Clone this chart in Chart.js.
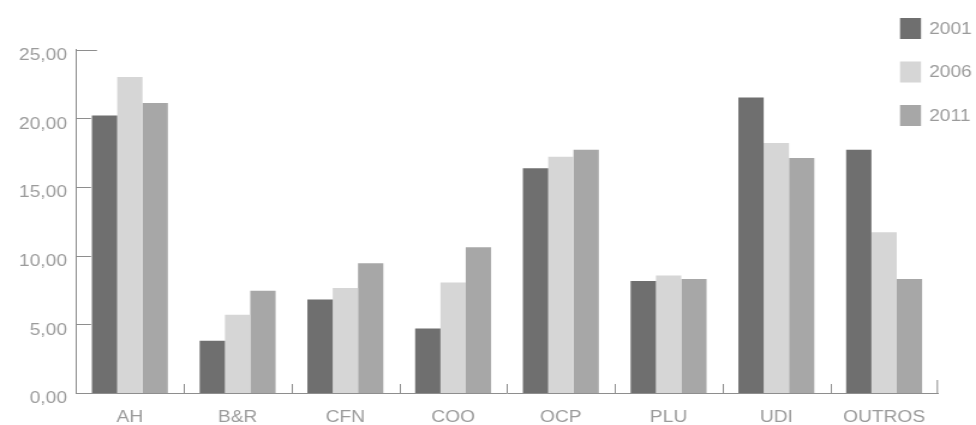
<!DOCTYPE html>
<html><head><meta charset="utf-8">
<script src="https://cdn.jsdelivr.net/npm/chart.js@4.4.1/dist/chart.umd.min.js"></script>
<style>
html,body{margin:0;padding:0;background:#fff;overflow:hidden;}
#wrap{position:absolute;left:0;top:0;width:813px;height:425px;transform:scaleX(1.2005);transform-origin:0 0;}
canvas{display:block;}
</style></head><body>
<div id="wrap"><canvas id="c" width="813" height="425"></canvas></div>
<script>
const categories = ['AH', 'B&R', 'CFN', 'COO', 'OCP', 'PLU', 'UDI', 'OUTROS'];
const seriesNames = ['2001', '2006', '2011'];
const values2001 = [20.2, 3.8, 6.8, 4.7, 16.35, 8.15, 21.5, 17.7];
const values2006 = [23.0, 5.7, 7.65, 8.05, 17.2, 8.55, 18.2, 11.7];
const values2011 = [21.1, 7.45, 9.45, 10.6, 17.7, 8.3, 17.1, 8.3];
const yTickValues = [0, 5, 10, 15, 20, 25];

const FONT = '"Liberation Sans", Arial, Helvetica, sans-serif';
const TEXT = '#9b9b9b';
const AXIS = '#8e8e8e';
const colors = ['#6f6f6f', '#d6d6d6', '#a7a7a7'];

const innerTicks = {
  id: 'innerTicks',
  afterDatasetsDraw(chart) {
    const ctx = chart.ctx, x = chart.scales.x, y = chart.scales.y, a = chart.chartArea;
    ctx.save();
    ctx.strokeStyle = AXIS; ctx.lineWidth = 1;
    ctx.beginPath();
    y.ticks.forEach(t => {
      if (t.value === 0) return;
      const py = Math.round(y.getPixelForValue(t.value)) + 0.5;
      const len = t.value === y.max ? 17.5 : 12.5;
      ctx.moveTo(a.left, py); ctx.lineTo(a.left + len, py);
    });
    for (let i = 1; i < categories.length; i++) {
      const px = Math.round((x.getPixelForTick(i - 1) + x.getPixelForTick(i)) / 2) + 0.5;
      ctx.moveTo(px, a.bottom); ctx.lineTo(px, a.bottom - 9);
    }
    ctx.moveTo(a.right - 0.5, a.bottom); ctx.lineTo(a.right - 0.5, a.bottom - 13);
    ctx.stroke();
    ctx.restore();
  }
};

const sideLegend = {
  id: 'sideLegend',
  afterDraw(chart, args, o) {
    const ctx = chart.ctx;
    ctx.save();
    ctx.font = '16px ' + FONT;
    ctx.textBaseline = 'middle'; ctx.textAlign = 'left';
    chart.data.datasets.forEach((ds, i) => {
      const top = o.top + i * o.spacing;
      ctx.fillStyle = ds.backgroundColor;
      ctx.fillRect(o.left, top, o.boxW, o.boxH);
      ctx.fillStyle = TEXT;
      ctx.fillText(ds.label, o.left + o.boxW + o.gap, top + o.boxH / 2 + 1);
    });
    ctx.restore();
  }
};

new Chart(document.getElementById('c'), {
  type: 'bar',
  data: {
    labels: categories,
    datasets: [
      { label: seriesNames[0], data: values2001, backgroundColor: colors[0] },
      { label: seriesNames[1], data: values2006, backgroundColor: colors[1] },
      { label: seriesNames[2], data: values2011, backgroundColor: colors[2] }
    ]
  },
  options: {
    responsive: false,
    animation: false,
    devicePixelRatio: 1,
    layout: { padding: { left: 15.8, right: 31.7, top: 49.5, bottom: 0 } },
    datasets: { bar: { categoryPercentage: 0.705, barPercentage: 1.0, borderWidth: 0 } },
    plugins: {
      legend: { display: false },
      tooltip: { enabled: false },
      sideLegend: { left: 749.7, top: 18, spacing: 43.5, boxW: 17.5, boxH: 21, gap: 6.7 }
    },
    scales: {
      x: {
        afterFit(scale) { scale.height = 32; },
        grid: { display: false, drawTicks: false },
        border: { display: true, color: AXIS, width: 1 },
        ticks: { color: TEXT, font: { family: FONT, size: 16, lineHeight: 1 }, padding: 17, maxRotation: 0, autoSkip: false }
      },
      y: {
        min: 0, max: 25,
        afterFit(scale) { scale.width = 47.5; },
        afterBuildTicks(scale) { scale.ticks = yTickValues.map(v => ({ value: v })); },
        grid: { display: false, drawTicks: false },
        border: { display: true, color: AXIS, width: 1 },
        ticks: {
          color: TEXT, font: { family: FONT, size: 16 }, padding: 7.5, labelOffset: 6,
          callback: v => v.toFixed(2).replace('.', ',')
        }
      }
    }
  },
  plugins: [innerTicks, sideLegend]
});
</script>
</body></html>
